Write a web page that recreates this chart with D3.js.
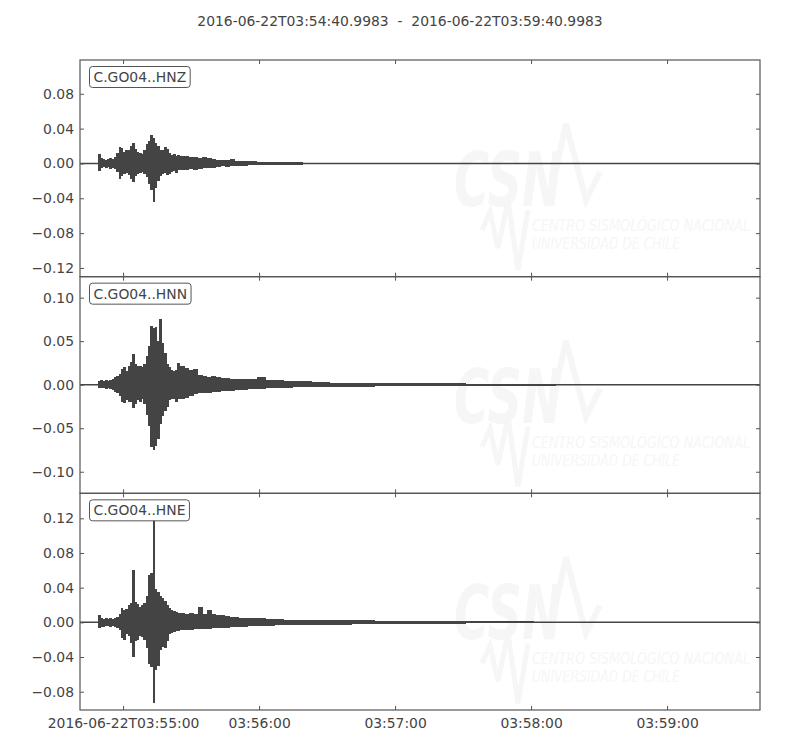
<!DOCTYPE html>
<html>
<head>
<meta charset="utf-8">
<script src="https://cdn.jsdelivr.net/npm/d3@7"></script>
<style>
  body { margin: 0; background: #fff; }
  svg { font-family: 'DejaVu Sans', sans-serif; }
</style>
</head>
<body>
<div id="chart"></div>
<script>
// --- data (envelopes, seconds after start) ---
const startTime = '2016-06-22T03:54:40.998Z'
const endTime = '2016-06-22T03:59:40.998Z'
const titleText = '2016-06-22T03:54:40.9983  -  2016-06-22T03:59:40.9983'
const traceIds = ['C.GO04..HNZ', 'C.GO04..HNN', 'C.GO04..HNE']

const binStarts = [8, 9, 10, 11, 12, 13, 14, 15, 16, 17, 18, 19, 20, 21, 22, 23, 24, 25, 26, 27, 28, 29, 30,
    31, 32, 33, 34, 35, 36, 37, 38, 39, 40, 41, 42, 43, 44,
    46, 48, 50, 52, 54, 56, 58, 60, 62, 64, 66, 68,
    70, 74, 78, 82, 86, 90, 94, 98, 102, 106,
    110, 120, 130, 140, 150, 160, 170, 180, 190, 200, 210, 220, 230, 240, 250, 260, 270, 280, 290]
const binEnd = 300

const hnzMax = [.011, .006, .005, .004, .005, .006, .005, .007,
    .012, .019, .018, .013, .015, .016, .020, .023, .017, .013, .012, .011, .016, .022, .026, .033, .029,
    .024, .020, .016, .015, .019, .017, .012, .010, .011, .009, .010, .008,
    .008, .007, .007, .006, .007, .006, .005, .004, .004, .004, .005, .003,
    .003, .003, .002, .002, .002, .0015, .0015, .001, .001, .001,
    .001, .001, .0009, .0008, .0008, .0007, .0006, .0005, .0005, .0004, .0004, .0003, .0003, .0003, .0003, .0002, .0002, .0002, .0002]
const hnzMin = [-.009, -.005, -.004, -.005, -.004, -.006, -.005, -.006,
    -.010, -.018, -.014, -.012, -.011, -.013, -.018, -.021, -.014, -.012, -.011, -.010, -.012, -.016, -.024, -.030, -.044,
    -.028, -.020, -.014, -.012, -.011, -.013, -.012, -.010, -.009, -.011, -.008, -.008,
    -.007, -.006, -.007, -.006, -.005, -.005, -.005, -.004, -.003, -.004, -.003, -.003,
    -.003, -.002, -.002, -.002, -.002, -.0015, -.0015, -.001, -.001, -.001,
    -.001, -.001, -.0009, -.0008, -.0008, -.0007, -.0006, -.0005, -.0005, -.0004, -.0004, -.0003, -.0003, -.0003, -.0003, -.0002, -.0002, -.0002, -.0002]

const hnnMax = [.004, .005, .004, .005, .004, .005, .007, .009,
    .010, .012, .018, .020, .016, .021, .026, .035, .024, .021, .022, .020, .024, .033, .045, .068, .065,
    .066, .050, .075, .048, .036, .024, .020, .017, .016, .017, .025, .021,
    .019, .017, .018, .011, .010, .009, .010, .009, .008, .008, .007, .007,
    .007, .006, .009, .005, .005, .004, .004, .004, .003, .003,
    .0025, .0022, .002, .0018, .0016, .0015, .0013, .0012, .0011, .001, .0008, .0007, .0006, .0005, .0004, .0004, .0003, .0003, .0003]
const hnnMin = [-.004, -.004, -.004, -.005, -.004, -.005, -.006, -.008,
    -.010, -.013, -.020, -.021, -.018, -.020, -.020, -.027, -.022, -.018, -.020, -.017, -.022, -.035, -.048, -.072, -.075,
    -.070, -.062, -.045, -.036, -.030, -.026, -.018, -.016, -.017, -.020, -.016, -.017,
    -.015, -.013, -.011, -.010, -.009, -.009, -.008, -.008, -.007, -.007, -.007, -.006,
    -.006, -.005, -.005, -.004, -.004, -.004, -.003, -.003, -.003, -.003,
    -.0025, -.0022, -.002, -.0018, -.0016, -.0015, -.0013, -.0012, -.0011, -.001, -.0008, -.0007, -.0006, -.0005, -.0004, -.0004, -.0003, -.0003, -.0003]

const hneMax = [.008, .005, .004, .005, .004, .005, .004, .005,
    .006, .010, .016, .014, .015, .020, .022, .060, .024, .021, .018, .020, .022, .030, .055, .057, .118,
    .038, .035, .030, .028, .025, .020, .016, .014, .013, .012, .011, .011,
    .010, .011, .010, .018, .010, .014, .010, .009, .008, .007, .006, .006,
    .005, .005, .005, .004, .004, .003, .003, .003, .003, .0025,
    .0025, .0022, .002, .0018, .0016, .0014, .0013, .0012, .001, .0009, .0008, .0007, .0006, .0005, .0004, .0004, .0003, .0003, .0003]
const hneMin = [-.007, -.005, -.005, -.004, -.004, -.005, -.004, -.005,
    -.006, -.009, -.018, -.020, -.014, -.016, -.024, -.040, -.022, -.020, -.016, -.017, -.020, -.030, -.048, -.052, -.093,
    -.055, -.050, -.032, -.028, -.030, -.022, -.014, -.012, -.011, -.010, -.010, -.009,
    -.009, -.009, -.008, -.008, -.008, -.008, -.007, -.007, -.006, -.006, -.005, -.005,
    -.005, -.004, -.004, -.004, -.003, -.003, -.003, -.003, -.003, -.0025,
    -.0025, -.0022, -.002, -.0018, -.0016, -.0014, -.0013, -.0012, -.001, -.0009, -.0008, -.0007, -.0006, -.0005, -.0004, -.0004, -.0003, -.0003, -.0003]

const hnzDomain = [-0.1300, 0.1188]
const hnnDomain = [-0.1248, 0.1241]
const hneDomain = [-0.1011, 0.1488]
const hnzTicks = [-0.12, -0.08, -0.04, 0, 0.04, 0.08]
const hnnTicks = [-0.10, -0.05, 0, 0.05, 0.10]
const hneTicks = [-0.08, -0.04, 0, 0.04, 0.08, 0.12]

const xTickTimes = ['2016-06-22T03:55:00Z', '2016-06-22T03:56:00Z', '2016-06-22T03:57:00Z',
    '2016-06-22T03:58:00Z', '2016-06-22T03:59:00Z']
const xTickLabels = ['2016-06-22T03:55:00', '03:56:00', '03:57:00', '03:58:00', '03:59:00']

// --- layout ---
const width = 800
const height = 750
const margin = { top: 60, right: 40, bottom: 40, left: 80 }
const plotW = width - margin.left - margin.right
const panelH = (height - margin.top - margin.bottom) / 3
const ink = '#444'
const spine = '#555'
const wmColor = '#f6f6f6'
const fontSize = '13.9px'

const panels = [
    { id: traceIds[0], max: hnzMax, min: hnzMin, domain: hnzDomain, ticks: hnzTicks },
    { id: traceIds[1], max: hnnMax, min: hnnMin, domain: hnnDomain, ticks: hnnTicks },
    { id: traceIds[2], max: hneMax, min: hneMin, domain: hneDomain, ticks: hneTicks },
]

const t0 = new Date(startTime)
const secToDate = s => new Date(t0.getTime() + s * 1000)
const x = d3.scaleUtc()
    .domain([t0, new Date(endTime)])
    .range([0, plotW])

const svg = d3.select('#chart')
    .append('svg')
    .attr('width', width)
    .attr('height', height)

svg.append('text')
    .attr('x', width / 2)
    .attr('y', 26)
    .attr('text-anchor', 'middle')
    .style('white-space', 'pre')
    .attr('fill', ink)
    .style('font-size', fontSize)
    .text(titleText)

const fmtY = d => d3.format('.2f')(d).replace('-', '\u2212')

function drawWatermark(g) {
    const wm = g.append('g')
        .attr('fill', wmColor)
        .attr('stroke', 'none')
    wm.append('text')
        .attr('x', 374)
        .attr('y', 146)
        .attr('font-size', 74)
        .attr('font-weight', 'bold')
        .attr('font-style', 'italic')
        .attr('textLength', 108)
        .attr('lengthAdjust', 'spacingAndGlyphs')
        .text('CSN')
    wm.append('path')
        .attr('d', 'M468,146 L486,64 L506,140 L520,112')
        .attr('fill', 'none')
        .attr('stroke', wmColor)
        .attr('stroke-width', 6)
    wm.append('path')
        .attr('d', 'M402,170 L410,152 L418,188 L428,140 L438,210 L448,150')
        .attr('fill', 'none')
        .attr('stroke', wmColor)
        .attr('stroke-width', 5)
    wm.append('text')
        .attr('x', 452)
        .attr('y', 171)
        .attr('font-size', 16)
        .attr('font-style', 'italic')
        .attr('textLength', 218)
        .attr('lengthAdjust', 'spacingAndGlyphs')
        .text('CENTRO SISMOLÓGICO NACIONAL')
    wm.append('text')
        .attr('x', 452)
        .attr('y', 189)
        .attr('font-size', 16)
        .attr('font-style', 'italic')
        .attr('textLength', 148)
        .attr('lengthAdjust', 'spacingAndGlyphs')
        .text('UNIVERSIDAD DE CHILE')
}

panels.forEach((p, i) => {
    const top = margin.top + i * panelH
    const g = svg.append('g')
        .attr('transform', `translate(${margin.left},${top})`)
    const y = d3.scaleLinear()
        .domain(p.domain)
        .range([panelH, 0])

    drawWatermark(g)

    // flat trace through the whole window
    g.append('line')
        .attr('x1', 0)
        .attr('x2', plotW)
        .attr('y1', y(0))
        .attr('y2', y(0))
        .attr('stroke', ink)
        .attr('stroke-width', 1.5)

    // min/max envelope per time bin (bins thinner than the trace line are skipped)
    const bins = binStarts.map((s, k) => ({
        t0: s,
        t1: k < binStarts.length - 1 ? binStarts[k + 1] : binEnd,
        hi: p.max[k],
        lo: p.min[k],
    })).filter(d => y(d.lo) - y(d.hi) > 1.6)
    g.append('g')
        .selectAll('rect')
        .data(bins)
        .join('rect')
        .attr('x', d => x(secToDate(d.t0)))
        .attr('width', d => x(secToDate(d.t1)) - x(secToDate(d.t0)) + 0.4)
        .attr('y', d => y(d.hi))
        .attr('height', d => y(d.lo) - y(d.hi))
        .attr('fill', ink)
        .attr('shape-rendering', 'crispEdges')

    // axes, ticks pointing inward on all four sides
    const styleAxis = sel => {
        sel.select('.domain').remove()
        sel.selectAll('line').attr('stroke', spine)
        sel.selectAll('text')
            .attr('fill', ink)
            .style('font-size', fontSize)
            .style('font-family', "'DejaVu Sans', sans-serif")
    }
    g.append('g')
        .call(d3.axisLeft(y).tickValues(p.ticks).tickFormat(fmtY).tickSize(-4).tickPadding(6))
        .call(styleAxis)
    g.append('g')
        .attr('transform', `translate(${plotW},0)`)
        .call(d3.axisRight(y).tickValues(p.ticks).tickFormat('').tickSize(-4))
        .call(styleAxis)
    const xTicks = xTickTimes.map(s => new Date(s))
    g.append('g')
        .call(d3.axisTop(x).tickValues(xTicks).tickFormat('').tickSize(-4))
        .call(styleAxis)
    g.append('g')
        .attr('transform', `translate(0,${panelH})`)
        .call(d3.axisBottom(x).tickValues(xTicks)
            .tickFormat(i === panels.length - 1 ? (d, k) => xTickLabels[k] : '')
            .tickSize(-4).tickPadding(8))
        .call(styleAxis)

    g.append('rect')
        .attr('width', plotW)
        .attr('height', panelH)
        .attr('fill', 'none')
        .attr('stroke', spine)
        .attr('stroke-width', 1.2)

    // trace label box
    const label = g.append('g').attr('transform', 'translate(9.5,6.5)')
    const txt = label.append('text')
        .attr('x', 4)
        .attr('y', 15.5)
        .attr('fill', ink)
        .style('font-size', fontSize)
        .text(p.id)
    const w = txt.node().getComputedTextLength()
    label.insert('rect', 'text')
        .attr('width', w + 8)
        .attr('height', 21)
        .attr('rx', 3)
        .attr('fill', '#fff')
        .attr('stroke', spine)
        .attr('stroke-width', 1)
})
</script>
</body>
</html>
